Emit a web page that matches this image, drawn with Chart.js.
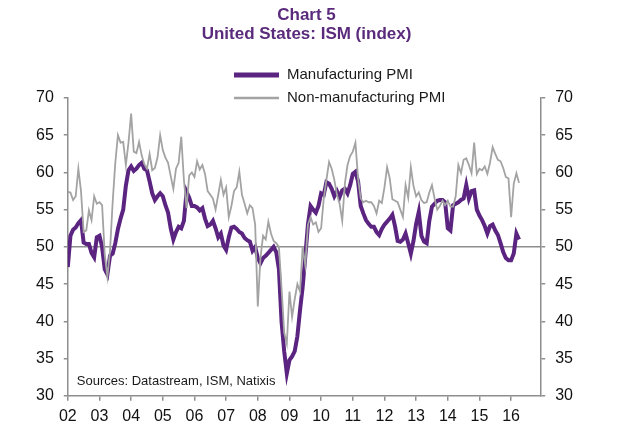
<!DOCTYPE html>
<html lang="en">
  <head>
    <meta charset="UTF-8" />
    <title>Chart 5 - United States: ISM (index)</title>
    <script src="https://cdn.jsdelivr.net/npm/chart.js@4.4.1/dist/chart.umd.min.js"></script>
    <style>
      body {
        margin: 0;
        background-color: white;
      }

      .chart-container {
        width: 640px;
        height: 442px;
      }
    </style>
  </head>

  <body>
    <div class="chart-container">
      <canvas id="myChart"></canvas>
    </div>

    <script>
      // monthly readings, Jan 2002 .. Apr 2016 (one row per year)
      const startYear = 2002;

      const manufacturing = [
        47.3, 51.5, 52.3, 52.6, 53.2, 53.6, 50.6, 50.4, 50.4, 49.2, 48.6, 51.3,
        51.5, 50.0, 47.0, 46.3, 48.8, 49.1, 50.5, 52.4, 53.8, 55.0, 58.2, 60.3,
        60.8, 60.2, 60.5, 61.0, 61.3, 60.5, 60.3, 58.8, 57.2, 56.3, 56.8, 57.2,
        56.8, 55.6, 54.6, 52.5, 51.0, 52.0, 52.7, 52.5, 53.5, 57.4, 56.6, 55.5,
        55.5, 55.3, 54.9, 55.2, 53.8, 52.8, 53.0, 53.5, 52.5, 51.3, 51.8, 50.2,
        49.6, 51.3, 52.6, 52.7, 52.4, 52.0, 51.8, 51.2, 50.9, 50.7, 49.5, 50.0,
        48.5, 47.8, 48.5, 48.8, 49.2, 49.6, 50.0, 49.3, 47.0, 40.0, 36.0, 33.0,
        34.8, 35.3, 36.0, 38.0, 41.5, 44.6, 48.7, 53.0, 55.5, 55.0, 54.6, 55.5,
        57.2, 57.0, 58.7, 58.5, 57.8, 56.8, 57.5, 56.7, 57.6, 57.8, 57.2, 58.3,
        59.8, 60.1, 58.8, 55.5, 54.5, 53.6, 53.1, 52.7, 52.7, 52.0, 51.6, 52.4,
        53.0, 53.4, 53.8, 54.3, 52.8, 50.8, 50.7, 51.0, 51.8, 50.5, 49.1, 50.8,
        53.1, 54.7, 51.5, 50.7, 50.5, 53.5, 55.4, 55.8, 56.2, 56.3, 56.3, 56.0,
        52.5, 52.2, 55.6, 55.8, 56.0, 56.3, 56.5, 58.3, 56.5, 57.5, 57.6, 55.0,
        54.2, 53.6, 52.8, 51.8, 52.8, 53.0, 52.2, 51.6, 50.5, 49.3, 48.5, 48.2,
        48.2, 49.1, 51.8, 51.0,
      ];

      const nonManufacturing = [
        57.4, 57.3, 56.3, 56.8, 60.5, 57.5, 52.0, 52.2, 54.9, 53.6, 56.8, 55.8,
        56.0, 55.6, 49.0, 46.0, 49.5, 56.0, 61.3, 65.0, 64.0, 64.1, 61.0, 64.0,
        67.9, 62.8, 62.6, 64.1, 62.3, 61.1, 60.5, 62.5, 60.3, 60.6, 62.0, 65.0,
        63.0, 62.0, 61.3, 59.5, 57.8, 60.5, 61.3, 64.8, 59.0, 55.2, 59.6, 60.0,
        59.4, 61.5, 60.4, 61.0, 59.8, 57.5, 57.0, 56.5, 55.0, 57.0, 59.0, 57.0,
        58.0, 54.0, 55.5, 57.5, 58.0, 60.1, 57.0, 55.8, 54.5, 55.6, 55.2, 53.0,
        42.0, 48.5, 51.5, 51.0, 53.4, 51.8, 50.8, 50.5, 50.0, 44.5, 38.5, 37.0,
        44.0, 40.6, 43.0, 45.0, 44.0, 50.0, 47.5, 53.0, 54.0, 53.0, 53.3, 52.0,
        52.5, 56.5, 59.0, 61.4, 60.5, 59.0, 57.0, 55.8, 53.5, 58.5, 61.0, 62.2,
        62.8, 64.0, 59.2, 56.5, 56.0, 56.2, 56.0, 56.0, 55.5, 54.5, 56.2, 55.9,
        58.0, 60.7, 59.2, 56.4, 56.2, 56.0, 55.0, 54.0, 58.3, 56.6, 60.7, 58.2,
        56.8, 57.3, 56.3, 55.9, 56.0, 57.3, 58.3, 56.5, 55.0, 55.5, 56.2, 55.6,
        56.2, 55.4, 55.4, 56.8, 61.0, 59.9, 61.7, 61.9, 61.0, 59.9, 64.0, 59.8,
        60.5, 60.3, 60.8, 59.8, 61.3, 63.4, 62.5, 61.7, 61.5, 60.6, 59.4, 59.2,
        54.0, 58.5, 59.9, 58.6,
      ];

      const yearTicks = [2002, 2003, 2004, 2005, 2006, 2007, 2008, 2009, 2010, 2011, 2012, 2013, 2014, 2015, 2016];

      const purple = "#5a2480";
      const grey = "#a3a3a3";
      const axisGrey = "#8e8e8e";
      const font = "'Liberation Sans', Arial, sans-serif";

      function toPoints(values) {
        return values.map((v, i) => ({ x: startYear + i / 12, y: v }));
      }

      // title, legend and source note
      const decorations = {
        id: "decorations",
        afterDraw(chart) {
          const c = chart.ctx;
          const area = chart.chartArea;
          const mid = (area.left + area.right) / 2;
          c.save();
          c.fillStyle = "#5a2a7c";
          c.font = "bold 17px " + font;
          c.textAlign = "center";
          c.textBaseline = "middle";
          c.fillText("Chart 5", mid + 2, 15);
          c.fillText("United States: ISM (index)", mid + 2, 34);

          c.textAlign = "left";
          c.font = "15px " + font;
          c.fillStyle = "#1a1a1a";
          c.lineCap = "butt";

          c.strokeStyle = purple;
          c.lineWidth = 5;
          c.beginPath();
          c.moveTo(234, 75);
          c.lineTo(279, 75);
          c.stroke();
          c.fillText("Manufacturing PMI", 287, 75);

          c.strokeStyle = grey;
          c.lineWidth = 2.5;
          c.beginPath();
          c.moveTo(234, 98);
          c.lineTo(279, 98);
          c.stroke();
          c.fillText("Non-manufacturing PMI", 287, 98);

          c.font = "13px " + font;
          c.fillText("Sources: Datastream, ISM, Natixis", area.left + 9, area.bottom - 14);
          c.restore();
        },
      };

      const yTicks = {
        stepSize: 5,
        color: "#111",
        padding: 10,
        font: { size: 16, family: font },
      };

      const ctx = document.getElementById("myChart").getContext("2d");
      const myChart = new Chart(ctx, {
        type: "line",
        data: {
          datasets: [
            {
              label: "Non-manufacturing PMI",
              data: toPoints(nonManufacturing),
              borderColor: grey,
              borderWidth: 1.8,
              pointRadius: 0,
              tension: 0,
              order: 0,
            },
            {
              label: "Manufacturing PMI",
              data: toPoints(manufacturing),
              borderColor: purple,
              borderWidth: 4,
              pointRadius: 0,
              tension: 0,
              order: 1,
            },
          ],
        },
        options: {
          responsive: true,
          maintainAspectRatio: false,
          animation: false,
          layout: {
            padding: { top: 98, left: 26, right: 57, bottom: 10 },
          },
          scales: {
            x: {
              type: "linear",
              min: startYear,
              max: 2016.95,
              afterBuildTicks(scale) {
                scale.ticks = yearTicks.map((y) => ({ value: y }));
              },
              ticks: {
                color: "#111",
                padding: 6,
                maxRotation: 0,
                font: { size: 16, family: font },
                callback: (v) => String(v).slice(2),
              },
              grid: {
                drawOnChartArea: false,
                tickLength: 5,
                color: axisGrey,
                lineWidth: 1.5,
              },
              border: { color: axisGrey, width: 1.5 },
            },
            y: {
              position: "left",
              min: 30,
              max: 70,
              ticks: yTicks,
              grid: {
                tickLength: 4,
                lineWidth: 1.5,
                color: (c) => (c.tick && c.tick.value === 50 ? axisGrey : "transparent"),
                tickColor: axisGrey,
              },
              border: { color: axisGrey, width: 1.5 },
            },
            y2: {
              position: "right",
              min: 30,
              max: 70,
              ticks: yTicks,
              grid: {
                drawOnChartArea: false,
                tickLength: 4,
                lineWidth: 1.5,
                color: axisGrey,
              },
              border: { color: axisGrey, width: 1.5 },
            },
          },
          plugins: {
            legend: { display: false },
            title: { display: false },
            tooltip: { enabled: false },
          },
        },
        plugins: [decorations],
      });
    </script>
  </body>
</html>
